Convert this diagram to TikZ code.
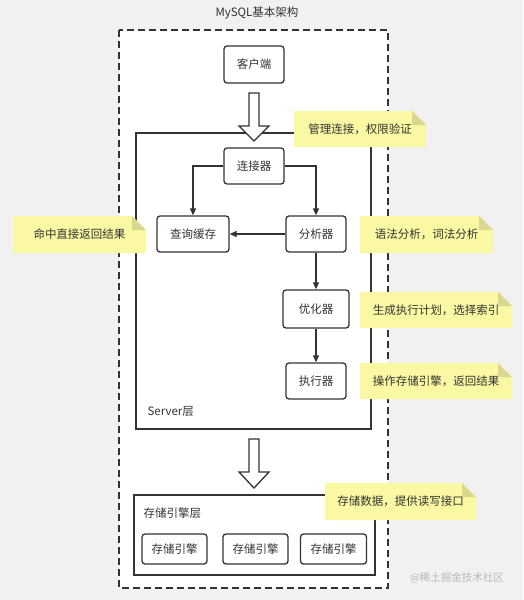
\documentclass[tikz,border=0pt]{standalone}
\usepackage{fontspec}
\setmainfont{Noto Sans CJK SC}
\usetikzlibrary{arrows.meta}
\definecolor{bg}{RGB}{241,241,241}
\definecolor{ink}{RGB}{51,51,51}
\definecolor{notefill}{RGB}{250,248,162}
\definecolor{notefold}{RGB}{218,216,142}
\definecolor{wm}{RGB}{185,185,185}
\newcommand\mynote[6]{%
  \fill[notefill] (#1,#2) -- (#3-14,#2) -- (#3,#2+14) -- (#3,#4) -- (#1,#4) -- cycle;
  \fill[notefold] (#3-14,#2) -- (#3,#2+14) -- (#3-14,#2+14) -- cycle;
  \node[notetext] (#5) at ({(#1+#3)/2},{(#2+#4)/2}) {#6};}
\begin{document}
\begin{tikzpicture}[x=1pt,y=-1pt,
  every node/.style={text=ink,font=\fontsize{11.5}{13}\selectfont},
  box/.style={draw=ink,line width=1.3pt,rounded corners=3pt,fill=white,inner sep=0pt},
  notetext/.style={inner sep=0pt},
  arr/.style={draw=ink,line width=1.3pt,-{Triangle[length=7pt,width=6pt]}},
  blockarrow/.style={draw=ink,line width=1.3pt,fill=white,line join=miter}]
\fill[bg] (0,0) rectangle (523,600);
\useasboundingbox (0,0) rectangle (523,600);
% title
\node (title) at (257,13) {MySQL基本架构};
% outer dashed box
\draw[ink,line width=1.3pt,dash pattern=on 7pt off 4pt,fill=white] (119,30) rectangle (388,588);
% server layer
\draw[ink,line width=1.3pt,fill=white] (136,133) rectangle (371,429);
\node[anchor=west] (serverlbl) at (144,411) {Server层};
% client
\node[box,minimum width=60pt,minimum height=37pt] (client) at (254,64.5) {客户端};
% block arrow 1
\draw[blockarrow] (249,93) -- (259,93) -- (259,126) -- (269,126) -- (254,141) -- (239,126) -- (249,126) -- cycle;
% nodes
\node[box,minimum width=60pt,minimum height=36pt] (conn) at (254,166) {连接器};
\node[box,minimum width=72pt,minimum height=36pt] (cache) at (193,234) {查询缓存};
\node[box,minimum width=60pt,minimum height=36pt] (ana) at (316,234) {分析器};
\node[box,minimum width=66pt,minimum height=38pt] (opt) at (316,309) {优化器};
\node[box,minimum width=60pt,minimum height=36pt] (exec) at (316,381) {执行器};
\draw[arr] (conn.west) -| (cache.north);
\draw[arr] (conn.east) -| (ana.north);
\draw[arr] (ana.west) -- (cache.east);
\draw[arr] (ana.south) -- (opt.north);
\draw[arr] (opt.south) -- (exec.north);
% block arrow 2
\draw[blockarrow] (249,439) -- (259,439) -- (259,472) -- (269,472) -- (254,488) -- (239,472) -- (249,472) -- cycle;
% storage layer
\draw[ink,line width=1.3pt,fill=white] (134,495) rectangle (375,575);
\node[anchor=west] (storelbl) at (140,513) {存储引擎层};
\node[box,minimum width=65pt,minimum height=30pt] (eng1) at (174.5,549) {存储引擎};
\node[box,minimum width=65pt,minimum height=30pt] (eng2) at (255.5,549) {存储引擎};
\node[box,minimum width=66pt,minimum height=30pt] (eng3) at (333.5,549) {存储引擎};
% notes
\mynote{294}{111}{426}{147}{n1}{管理连接，权限验证}
\mynote{13}{216}{146}{253}{n2}{命中直接返回结果}
\mynote{360}{216}{493}{253}{n3}{语法分析，词法分析}
\mynote{360}{292}{512}{328}{n4}{生成执行计划，选择索引}
\mynote{360}{363}{512}{399}{n5}{操作存储引擎，返回结果}
\mynote{325}{483}{476}{520}{n6}{存储数据，提供读写接口}
% watermark
\node[text=wm,font=\fontsize{10.5}{12}\selectfont] (wmk) at (457,578) {@稀土掘金技术社区};
\end{tikzpicture}
\end{document}
